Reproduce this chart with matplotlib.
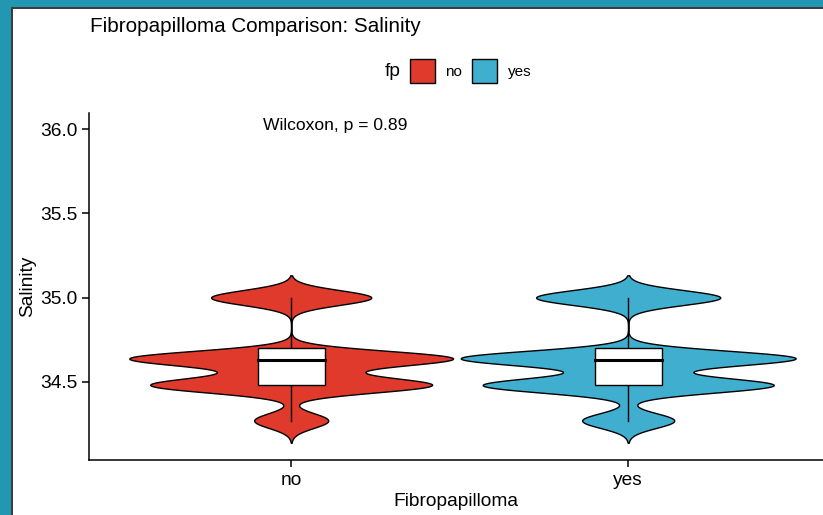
import numpy as np
import matplotlib.pyplot as plt
from matplotlib.patches import Rectangle

plt.rcParams['font.family'] = ['Liberation Sans', 'DejaVu Sans']

# data
groups = ["no", "yes"]
colors = ["#DF3A2B", "#40AFCF"]
salinity_levels = [34.27, 34.48, 34.56, 34.64, 35.0]
counts_no = [37, 137, 18, 158, 80]
counts_yes = [46, 144, 6, 166, 92]
bandwidth = 0.044
box_low = [34.27, 34.27]
box_q1 = [34.48, 34.48]
box_median = [34.63, 34.63]
box_q3 = [34.70, 34.70]
box_high = [35.0, 35.0]
yticks = [34.5, 35.0, 35.5, 36.0]
pvalue = 0.89


def density(levels, counts, bw):
    lo = min(levels) - 3 * bw
    hi = max(levels) + 3 * bw
    y = np.linspace(lo, hi, 600)
    d = np.zeros_like(y)
    for c, n in zip(levels, counts):
        d += n * np.exp(-0.5 * ((y - c) / bw) ** 2)
    return y, d


fig = plt.figure(figsize=(8.23, 5.15), dpi=100)
ax = fig.add_axes([89 / 823, 55 / 515, 734 / 823, 347 / 515])

dens = [density(salinity_levels, counts_no, bandwidth),
        density(salinity_levels, counts_yes, bandwidth)]
dmax = max(d.max() for _, d in dens)

for i, (y, d) in enumerate(dens):
    x0 = i + 1
    half = d / dmax * 0.497
    ax.fill_betweenx(y, x0 - half, x0 + half, facecolor=colors[i],
                     edgecolor="black", linewidth=1.0, zorder=2)
    # box plot
    ax.plot([x0, x0], [box_low[i], box_q1[i]], color="black", lw=1.0, zorder=3)
    ax.plot([x0, x0], [box_q3[i], box_high[i]], color="black", lw=1.0, zorder=3)
    ax.add_patch(Rectangle((x0 - 0.1, box_q1[i]), 0.2, box_q3[i] - box_q1[i],
                           facecolor="white", edgecolor="black", lw=1.0, zorder=3))
    ax.plot([x0 - 0.1, x0 + 0.1], [box_median[i]] * 2, color="black", lw=2.2, zorder=4)

ax.set_xlim(0.4, 2.578)
ax.set_ylim(34.036, 36.095)
ax.set_xticks([1, 2])
ax.set_xticklabels(groups)
ax.set_yticks(yticks)
ax.set_yticklabels([f"{v:.1f}" for v in yticks])
for s in ["top", "right"]:
    ax.spines[s].set_visible(False)
for s in ["left", "bottom"]:
    ax.spines[s].set_linewidth(1.1)
ax.tick_params(axis="both", length=5, width=1.1, labelsize=13.8, colors="black")
ax.set_xlabel("Fibropapilloma", fontsize=13.8, labelpad=3)
ax.set_ylabel("Salinity", fontsize=13.8, labelpad=3)

ax.text(1.13, 36.02, f"Wilcoxon, p = {pvalue}", fontsize=12.6, ha="center", va="center")

fig.text(90 / 823, 1 - 27 / 515, "Fibropapilloma Comparison: Salinity",
         fontsize=14.9, ha="left", va="center")

# legend at top
fig.text(393 / 823, 1 - 72 / 515, "fp", fontsize=13.8, ha="center", va="center")
legend_x = [410, 472]
label_x = [445, 508]
for i, g in enumerate(groups):
    fig.patches.append(Rectangle((legend_x[i] / 823, 1 - 83 / 515), 25 / 823, 24 / 515,
                                 facecolor=colors[i], edgecolor="black", lw=1.0,
                                 transform=fig.transFigure, figure=fig))
    fig.text(label_x[i] / 823, 1 - 72 / 515, g, fontsize=11, ha="left", va="center")

# frame around screenshot
fig.patches.append(Rectangle((0, 1 - 7 / 515), 1, 7 / 515, facecolor="#2297B1",
                             edgecolor="none", transform=fig.transFigure, figure=fig))
fig.patches.append(Rectangle((0, 1 - 9 / 515), 1, 2 / 515, facecolor="#3C3C3C",
                             edgecolor="none", transform=fig.transFigure, figure=fig))
fig.patches.append(Rectangle((0, 0), 11 / 823, 1, facecolor="#2297B1",
                             edgecolor="none", transform=fig.transFigure, figure=fig))
fig.patches.append(Rectangle((11 / 823, 0), 1.5 / 823, 1 - 7 / 515, facecolor="#3C3C3C",
                             edgecolor="none", transform=fig.transFigure, figure=fig))

fig.savefig("out.png", dpi=100)
